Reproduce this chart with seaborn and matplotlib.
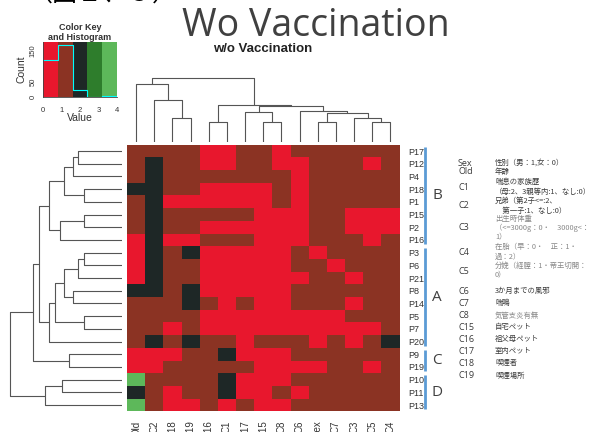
import numpy as np
import pandas as pd
import matplotlib
matplotlib.use("Agg")
import matplotlib.pyplot as plt
from matplotlib.colors import ListedColormap
import seaborn as sns

# ---- data ----
col_labels = ["Old", "C2", "C18", "C19", "C16", "C1", "C17", "C15", "C8",
              "C6", "Sex", "C7", "C3", "C5", "C4"]
row_labels = ["P17", "P12", "P4", "P18", "P1", "P15", "P2", "P16", "P3", "P6",
              "P21", "P8", "P14", "P5", "P7", "P20", "P9", "P19", "P10", "P11", "P13"]

values = [
    [1, 1, 1, 1, 0, 0, 1, 1, 0, 1, 1, 1, 1, 1, 1],  # P17
    [1, 2, 1, 1, 0, 0, 1, 1, 0, 0, 1, 1, 1, 0, 1],  # P12
    [1, 2, 1, 1, 1, 1, 1, 1, 1, 0, 1, 1, 1, 1, 1],  # P4
    [2, 2, 1, 1, 0, 0, 0, 0, 1, 0, 1, 1, 1, 1, 1],  # P18
    [1, 2, 0, 0, 0, 0, 0, 0, 1, 0, 1, 1, 1, 1, 1],  # P1
    [1, 2, 1, 1, 1, 1, 1, 0, 0, 0, 1, 1, 0, 0, 0],  # P15
    [1, 2, 1, 1, 0, 0, 0, 0, 0, 0, 1, 1, 0, 0, 0],  # P2
    [0, 2, 0, 0, 1, 1, 1, 0, 0, 0, 1, 1, 1, 0, 1],  # P16
    [0, 2, 1, 2, 0, 0, 0, 0, 0, 1, 0, 1, 1, 1, 1],  # P3
    [0, 2, 1, 1, 0, 0, 0, 0, 0, 1, 1, 0, 1, 1, 1],  # P6
    [0, 2, 1, 1, 0, 0, 0, 0, 0, 0, 1, 1, 0, 1, 1],  # P21
    [2, 2, 1, 2, 0, 0, 0, 0, 0, 1, 1, 1, 1, 1, 1],  # P8
    [1, 1, 1, 2, 1, 0, 1, 0, 0, 1, 1, 1, 0, 1, 1],  # P14
    [1, 1, 1, 1, 0, 0, 0, 0, 0, 0, 0, 0, 1, 1, 1],  # P5
    [1, 1, 0, 1, 0, 0, 0, 0, 0, 0, 0, 0, 0, 0, 1],  # P7
    [1, 2, 1, 2, 1, 1, 0, 1, 1, 1, 0, 1, 0, 1, 2],  # P20
    [0, 0, 0, 1, 1, 2, 0, 0, 0, 1, 1, 1, 1, 1, 1],  # P9
    [0, 0, 1, 1, 1, 1, 1, 0, 0, 0, 0, 1, 1, 0, 1],  # P19
    [4, 1, 1, 1, 1, 2, 0, 0, 0, 1, 1, 1, 1, 1, 1],  # P10
    [2, 1, 0, 1, 1, 2, 0, 0, 1, 0, 1, 1, 1, 1, 1],  # P11
    [4, 1, 0, 0, 1, 0, 1, 0, 0, 1, 1, 1, 1, 1, 1],  # P13
]

key_colors = ["#E8172D", "#8B3323", "#1E2726", "#2E7D2C", "#5DB85A"]
key_edges = [0, 0.8, 1.6, 2.4, 3.2, 4.0]

# dendrogram merges: (left, right, height); str = leaf, int = earlier merge
col_merges = [
    ("C18", "C19", 24), ("C2", 0, 42), ("Old", 1, 58),
    ("C16", "C1", 20), ("C15", "C8", 20), ("C17", 4, 30),
    ("Sex", "C7", 20), ("C5", "C4", 20), ("C3", 7, 24),
    (6, 8, 29), ("C6", 9, 31), (5, 10, 36), (3, 11, 37.5), (2, 12, 64),
]
row_merges = [
    ("P17", "P12", 44), (0, "P4", 49), ("P18", "P1", 38.4), (1, 2, 58.4),
    ("P15", "P2", 38.4), (4, "P16", 62.4), (3, 5, 73.4),
    ("P3", "P6", 38.4), (7, "P21", 44), ("P8", "P14", 49), (8, 9, 58.4),
    ("P5", "P7", 38.4), (10, 11, 66.7), (12, "P20", 73.4), (6, 13, 83),
    ("P9", "P19", 53.4), (14, 15, 89.4),
    ("P10", "P11", 60), (17, "P13", 77), (16, 18, 112.4),
]

groups = [("B", "P17", "P16"), ("A", "P3", "P20"), ("C", "P9", "P19"), ("D", "P10", "P13")]

legend_codes = ["Sex", "Old", "C1", "C2", "C3", "C4", "C5", "C6", "C7", "C8",
                "C15", "C16", "C17", "C18", "C19"]
legend_text = [
    ["性別（男：1,女：0）"],
    ["年齢"],
    ["喘息の家族歴", "（母:2、3親等内:1、なし:0）"],
    ["兄弟（第2子<=:2、", "　第一子:1、なし:0）"],
    ["出生時体重", "（<=3000g：0・　3000g<：", "1）"],
    ["在胎（早：0・　正：1・", "過：2）"],
    ["分娩（経膣：1・帝王切開：", "0）"],
    ["3か月までの風邪"],
    ["喘鳴"],
    ["気管支炎有無"],
    ["自宅ペット"],
    ["祖父母ペット"],
    ["室内ペット"],
    ["喫煙者"],
    ["喫煙場所"],
]
legend_light = ["C3", "C4", "C5", "C8"]
legend_y = [163, 172, 187, 206, 228, 252, 271, 291, 303, 316, 327, 339, 351, 363, 376]

# ---- figure ----
sns.set_style("white")
plt.rcParams["font.family"] = ["Liberation Sans", "Noto Sans CJK JP", "DejaVu Sans"]
W, H = 599, 432
fig = plt.figure(figsize=(W / 100, H / 100), dpi=100)


def px_axes(x0, y0, x1, y1):
    return fig.add_axes([x0 / W, 1 - y1 / H, (x1 - x0) / W, (y1 - y0) / H])


def draw_dendro(ax, merges, leaves, side):
    pos = {name: i + 0.5 for i, name in enumerate(leaves)}
    nodes = []
    for a, b, h in merges:
        pa, ha = (pos[a], 0.0) if isinstance(a, str) else nodes[a]
        pb, hb = (pos[b], 0.0) if isinstance(b, str) else nodes[b]
        xs, ys = [pa, pa, pb, pb], [ha, h, h, hb]
        if side == "top":
            ax.plot(xs, ys, color="#555555", lw=0.8)
        else:
            ax.plot(ys, xs, color="#555555", lw=0.8)
        nodes.append(((pa + pb) / 2, h))


df = pd.DataFrame(values, index=row_labels, columns=col_labels)
hm_x0, hm_x1, hm_y0, hm_y1 = 127, 399.5, 144.7, 411.4

# main heatmap
ax = px_axes(hm_x0, hm_y0, hm_x1, hm_y1)
sns.heatmap(df, ax=ax, cmap=ListedColormap(key_colors), vmin=0, vmax=4,
            cbar=False, xticklabels=True, yticklabels=True)
ax.tick_params(axis="y", left=False, right=False, labelleft=False, labelright=True,
               labelsize=6.5, labelcolor="#333333", pad=3)
ax.tick_params(axis="x", bottom=False, labelsize=7, labelcolor="#333333", pad=3)
plt.setp(ax.get_yticklabels(), rotation=0, ha="left")
plt.setp(ax.get_xticklabels(), rotation=90, va="top")
ax.set_xlabel("")
ax.set_ylabel("")

# column dendrogram
axc = px_axes(hm_x0, 72, hm_x1, 142)
draw_dendro(axc, col_merges, col_labels, "top")
axc.set_xlim(0, len(col_labels))
axc.set_ylim(0, 70)
axc.axis("off")

# row dendrogram
axr = px_axes(0, hm_y0, 122, hm_y1)
draw_dendro(axr, row_merges, row_labels, "left")
axr.set_ylim(len(row_labels), 0)
axr.set_xlim(122, 0)
axr.axis("off")

# group bars and letters
axg = px_axes(415, hm_y0, 460, hm_y1)
axg.set_xlim(415, 460)
axg.set_ylim(len(row_labels), 0)
axg.axis("off")
for name, first, last in groups:
    i0, i1 = row_labels.index(first), row_labels.index(last) + 1
    axg.plot([425, 425], [i0 + 0.15, i1 - 0.15], color="#5B9BD5", lw=2,
             solid_capstyle="butt")
    axg.text(437, (i0 + i1) / 2, name, fontsize=11, color="#404040",
             ha="center", va="center", family="Open Sans")

# color key with histogram
axk = px_axes(43, 42, 117, 97)
for i, c in enumerate(key_colors):
    axk.axvspan(key_edges[i], key_edges[i + 1], color=c, lw=0, zorder=0)
flat = df.values.ravel()
sns.histplot(x=flat, bins=key_edges, element="step", fill=False, color="cyan",
             linewidth=0.8, ax=axk)
counts = np.histogram(flat, bins=key_edges)[0]
axk.set_xlim(0, 4)
axk.set_ylim(0, counts.max() / 0.95)
axk.set_xticks([0, 1, 2, 3, 4])
axk.set_yticks([0, 50, 100, 150])
axk.set_yticklabels(["0", "50", "", "150"], rotation=90, va="center")
axk.tick_params(labelsize=5.5, length=2.5, width=0.6, colors="#333333")
axk.tick_params(axis="x", pad=5)
axk.tick_params(axis="y", pad=2)
axk.set_xlabel("Value", fontsize=7.5, labelpad=-1, color="#333333")
axk.set_ylabel("Count", fontsize=7.5, labelpad=2, color="#333333")
for s in ["top", "right"]:
    axk.spines[s].set_visible(False)
for s in ["left", "bottom"]:
    axk.spines[s].set_color("#444444")
    axk.spines[s].set_linewidth(0.6)
fig.text(80 / W, 1 - 27 / H, "Color Key", fontsize=6.5, fontweight="bold",
         color="#333333", ha="center", va="center")
fig.text(80 / W, 1 - 37 / H, "and Histogram", fontsize=6.5, fontweight="bold",
         color="#333333", ha="center", va="center")

# titles
fig.text(28 / W, 1 - 1 / H, "（図１、３）", fontsize=18, color="black",
         ha="left", va="baseline", family=["Noto Sans CJK JP"])
fig.text(316 / W, 1 - 36 / H, "Wo Vaccination", fontsize=27, color="#404040",
         ha="center", va="baseline", family="Open Sans")
fig.text(263 / W, 1 - 49 / H, "w/o Vaccination", fontsize=9.5, fontweight="bold",
         color="#222222", ha="center", va="center")

# variable legend
for code, lines, y in zip(legend_codes, legend_text, legend_y):
    tone = "#888888" if code in legend_light else "#3a3a3a"
    fig.text(458 / W, 1 - y / H, code, fontsize=6.5, color="#3a3a3a",
             ha="left", va="center", family=["Open Sans"])
    n = len(lines)
    for k, line in enumerate(lines):
        yy = y + (k - (n - 1) / 2) * 9.5
        fig.text(495 / W, 1 - yy / H, line, fontsize=5.3, color=tone,
                 ha="left", va="center", family=["Noto Sans CJK JP", "DejaVu Sans"])

fig.savefig("out.png", dpi=100)
